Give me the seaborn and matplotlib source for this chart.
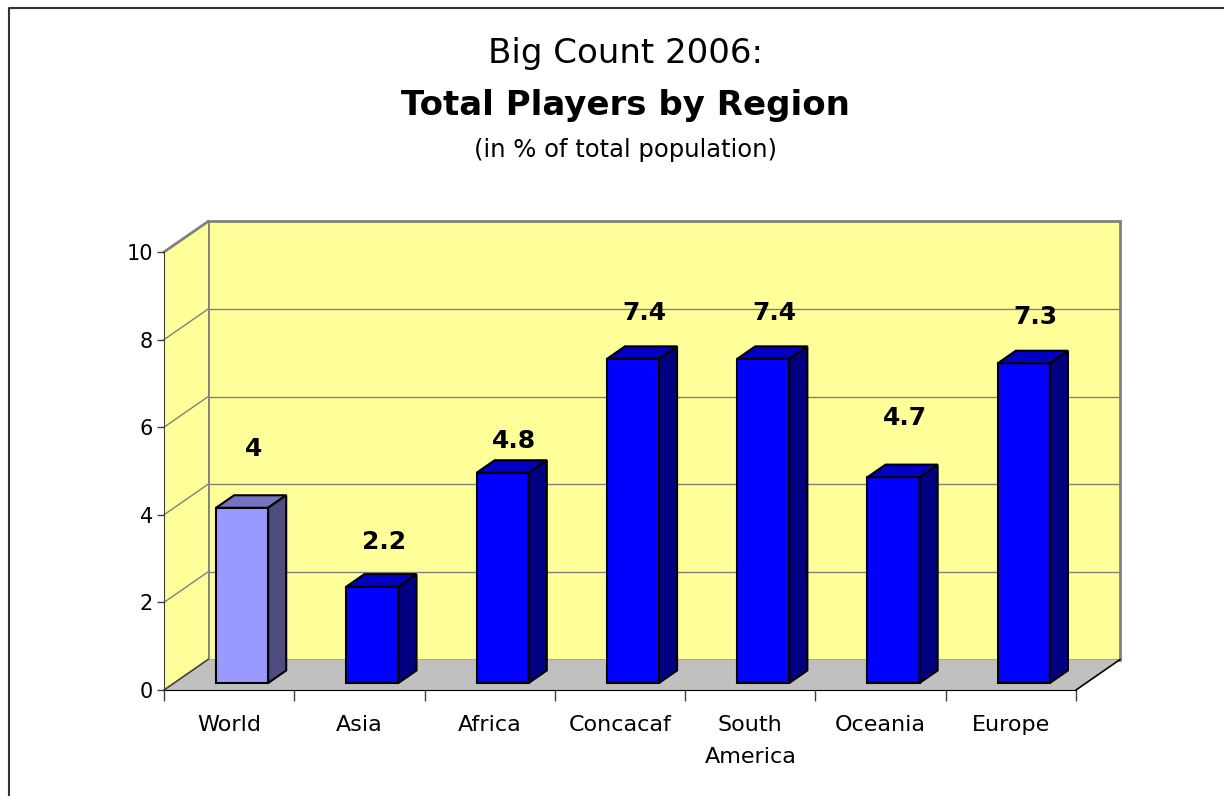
import numpy as np
import matplotlib
matplotlib.use("Agg")
import matplotlib.pyplot as plt
import seaborn as sns
from matplotlib.patches import Polygon, Rectangle
from matplotlib.lines import Line2D

plt.rcParams['font.family'] = ['DejaVu Sans']

# data
regions = ['World', 'Asia', 'Africa', 'Concacaf', 'South\nAmerica', 'Oceania', 'Europe']
values = [4, 2.2, 4.8, 7.4, 7.4, 4.7, 7.3]

# styles
front_colors = ['#9999FF'] + ['#0000FF'] * 6
top_colors = ['#7373BF'] + ['#0000C0'] * 6
side_colors = ['#4D4D80'] + ['#000080'] * 6
label_gap = [59, 45, 32, 46, 46, 59, 46]  # px above bar top (labels were hand-placed)

W, H = 1224, 796
fig = plt.figure(figsize=(W / 100, H / 100), dpi=100)
ax = fig.add_axes([164 / W, 1 - 690 / H, 912 / W, 438 / H])
ax.set_facecolor('none')

sns.barplot(x=regions, y=values, hue=regions, palette=front_colors, saturation=1, width=0.4,
            edgecolor='black', linewidth=1.5, legend=False, ax=ax)
ax.set_xlim(-0.5, 6.5)
ax.set_ylim(0, 10)
ax.set_xlabel('')
ax.set_ylabel('')

# pixel -> data scale for the oblique "3d" depth
kx = 912 / 7.0
ky = 438 / 10.0
Dx, Dy = 44 / kx, 30.5 / ky          # full depth of the plot box
fx, fy = 0.295 * Dx, 0.23 * Dy       # bar front plane
bx, by = 0.41 * Dx, 0.41 * Dy        # bar depth

# walls and floor
ax.add_patch(Rectangle((-0.5 + Dx, Dy), 7, 10, facecolor='#FFFF99', edgecolor='#808080',
                       lw=2, zorder=0.5, clip_on=False))
ax.add_patch(Polygon([(-0.5, 0), (-0.5, 10), (-0.5 + Dx, 10 + Dy), (-0.5 + Dx, Dy)],
                     closed=True, facecolor='#FFFF99', edgecolor='none', zorder=0.5, clip_on=False))
ax.add_line(Line2D([-0.5, -0.5 + Dx], [10, 10 + Dy], color='#808080', lw=2, zorder=0.6, clip_on=False))
for g in range(2, 10, 2):
    ax.add_line(Line2D([-0.5 + Dx, 6.5 + Dx], [g + Dy, g + Dy], color='#808080', lw=1, zorder=0.6, clip_on=False))
    ax.add_line(Line2D([-0.5, -0.5 + Dx], [g, g + Dy], color='#808080', lw=1, zorder=0.6, clip_on=False))
ax.add_patch(Polygon([(-0.5, 0), (6.5, 0), (6.5 + Dx, Dy), (-0.5 + Dx, Dy)],
                     closed=True, facecolor='#C0C0C0', edgecolor='none', zorder=0.7, clip_on=False))
ax.add_line(Line2D([-0.5, -0.5 + Dx], [0, Dy], color='#404040', lw=1.2, zorder=0.8, clip_on=False))
ax.add_line(Line2D([6.5, 6.5 + Dx], [0, Dy], color='black', lw=1.2, zorder=0.8, clip_on=False))

# bars: shift front faces back and add top / side faces
bars = sorted([p for p in ax.patches if isinstance(p, Rectangle) and p.get_width() < 1],
              key=lambda p: p.get_x())
for i, p in enumerate(bars):
    x0 = p.get_x() + fx
    x1 = x0 + p.get_width()
    base = fy
    top = fy + p.get_height()
    p.set_xy((x0, base))
    p.set_zorder(3)
    p.set_clip_on(False)
    ax.add_patch(Polygon([(x0, top), (x1, top), (x1 + bx, top + by), (x0 + bx, top + by)],
                         closed=True, facecolor=top_colors[i], edgecolor='black', lw=1.5,
                         zorder=3, clip_on=False))
    ax.add_patch(Polygon([(x1, base), (x1 + bx, base + by), (x1 + bx, top + by), (x1, top)],
                         closed=True, facecolor=side_colors[i], edgecolor='black', lw=1.5,
                         zorder=3, clip_on=False))
    ax.text((x0 + x1) / 2 + bx / 2 + 0.02, top + label_gap[i] / ky, f'{values[i]:g}',
            ha='center', va='center', fontsize=18, fontweight='bold', zorder=5)

# axes
for s in ['top', 'right']:
    ax.spines[s].set_visible(False)
ax.spines['left'].set_color('#404040')
ax.spines['bottom'].set_color('black')
ax.spines['left'].set_zorder(1)
ax.spines['bottom'].set_zorder(1)
ax.set_yticks(range(0, 11, 2))
ax.tick_params(axis='y', length=5, width=1, color='#404040', labelsize=15, pad=3)
ax.set_xticks(range(len(regions)))
ax.set_xticklabels(regions, linespacing=1.75)
ax.set_xticks(np.arange(-0.5, 7, 1), minor=True)
ax.tick_params(axis='x', which='major', length=0, labelsize=16, pad=18)
ax.tick_params(axis='x', which='minor', length=8, width=1, color='#404040')
for t in ax.get_xticklabels():
    t.set_multialignment('center')

# titles
cx = 625 / W
fig.text(cx, 1 - 54 / H, 'Big Count 2006:', ha='center', va='center', fontsize=24.5)
fig.text(cx, 1 - 106 / H, 'Total Players by Region', ha='center', va='center', fontsize=24.5, fontweight='bold')
fig.text(cx, 1 - 150 / H, '(in % of total population)', ha='center', va='center', fontsize=17.5)

# outer frame (top and left edges visible)
fig.add_artist(Line2D([9 / W, 9 / W, 1], [0, 1 - 8 / H, 1 - 8 / H], transform=fig.transFigure,
                      color='#333333', lw=1.5))

fig.savefig('out.png', dpi=100)
